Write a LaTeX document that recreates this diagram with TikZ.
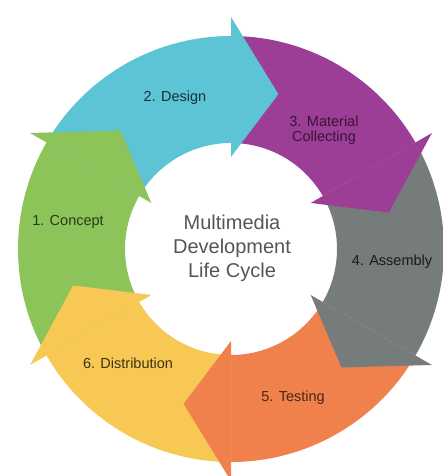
\documentclass[tikz,border=0pt]{standalone}
\usepackage{fontspec}
\setmainfont{Liberation Sans}
\usetikzlibrary{calc}
\definecolor{cgreen}{HTML}{8CC45A}
\definecolor{ccyan}{HTML}{5CC4D4}
\definecolor{cpurple}{HTML}{9C3E96}
\definecolor{cgray}{HTML}{767C7C}
\definecolor{corange}{HTML}{F0804C}
\definecolor{cyellow}{HTML}{F7C854}
\definecolor{ctitle}{HTML}{555555}
\newcommand\mdlcBody[3]{%
  \fill[#1] ($(C)+(#2:213pt)$) arc[start angle=#2,end angle=#3,radius=213pt]
    -- ($(C)+(#3:106pt)$) arc[start angle=#3,end angle=#2,radius=106pt] -- cycle;}
\newcommand\mdlcHead[2]{%
  \fill[#1] ($(C)+(#2:232pt)$) -- ($(C)+({#2-17}:162pt)$) -- ($(C)+(#2:92pt)$) -- cycle;}
\begin{document}
\begin{tikzpicture}[x=1pt,y=1pt,
  lbl/.style={font=\fontsize{14.5}{15}\selectfont, align=center, inner sep=0pt},
  ttl/.style={font=\fontsize{20}{24}\selectfont, align=center, inner sep=0pt, text=ctitle}]
\useasboundingbox (0,0) rectangle (442,476);
\coordinate (C) at (231,227);
% bodies
\mdlcBody{cgreen}{210}{150}
\mdlcBody{ccyan}{150}{90}
\mdlcBody{cpurple}{90}{30}
\mdlcBody{cgray}{30}{-30}
\mdlcBody{corange}{-30}{-90}
\mdlcBody{cyellow}{-90}{-150}
% heads
\mdlcHead{cgreen}{150}
\mdlcHead{ccyan}{90}
\mdlcHead{cpurple}{30}
\mdlcHead{cgray}{-30}
\mdlcHead{corange}{-90}
\mdlcHead{cyellow}{-150}
% labels
\node[lbl, text=cgreen!30!black] (concept) at (68,254) {1. Concept};
\node[lbl, text=ccyan!25!black] (design) at (175,378) {2. Design};
\node[lbl, text=cpurple!35!black] (material) at (324,346) {3. Material\\Collecting};
\node[lbl, text=cgray!20!black] (assembly) at (392,214) {4. Assembly};
\node[lbl, text=corange!30!black] (testing) at (293,78) {5. Testing};
\node[lbl, text=cyellow!25!black] (distribution) at (128,113) {6. Distribution};
\node[ttl] (title) at (232,228) {Multimedia\\Development\\Life Cycle};
\end{tikzpicture}
\end{document}
